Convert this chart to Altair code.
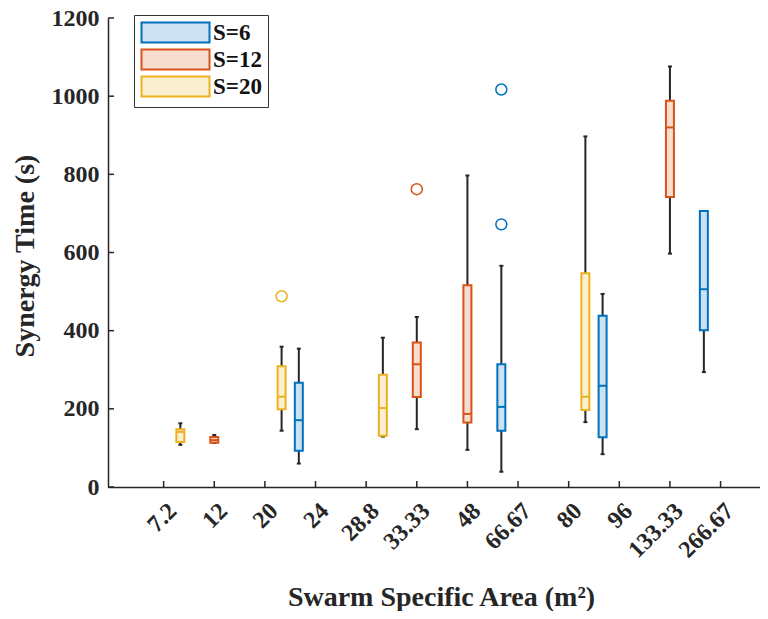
import json
import altair as alt
import pandas as pd

# ---------------- data ----------------
categories = ["7.2", "12", "20", "24", "28.8", "33.33", "48", "66.67", "80", "96", "133.33", "266.67"]
box_group = ["S=20", "S=12", "S=20", "S=6", "S=20", "S=12", "S=12", "S=6", "S=20", "S=6", "S=12", "S=6"]
whisker_low = [108, 113, 144, 60, 129, 148, 95, 39, 166, 84, 597, 294]
q1 = [115, 113, 199, 93, 131, 230, 165, 144, 197, 127, 742, 401]
median = [141, 120, 231, 171, 202, 314, 187, 205, 231, 259, 920, 506]
q3 = [148, 128, 309, 267, 287, 370, 516, 314, 547, 438, 988, 706]
whisker_high = [163, 133, 359, 354, 382, 435, 797, 566, 897, 494, 1076, 706]

outlier_category = ["20", "33.33", "66.67", "66.67"]
outlier_group = ["S=20", "S=12", "S=6", "S=6"]
outlier_value = [488, 762, 672, 1017]

y_ticks = [0, 200, 400, 600, 800, 1000, 1200]
groups = ["S=6", "S=12", "S=20"]

# ---------------- styles ----------------
edge_colors = ["#0072BD", "#D95319", "#EDB120"]
fill_colors = ["#CCE1F2", "#F7DCD0", "#FBEFD2"]
group_shift = {"S=6": -0.33, "S=12": 0.0, "S=20": 0.33}
FONT = "Liberation Serif"
AX = "#262626"
W, H = 652, 469

boxes = pd.DataFrame({
    "cat": categories, "S": box_group,
    "wlo": whisker_low, "q1": q1, "med": median, "q3": q3, "whi": whisker_high,
})
boxes["pos"] = [categories.index(c) + 1 + group_shift[g] for c, g in zip(boxes["cat"], boxes["S"])]

outl = pd.DataFrame({"cat": outlier_category, "S": outlier_group, "v": outlier_value})
outl["pos"] = [categories.index(c) + 1 + group_shift[g] for c, g in zip(outl["cat"], outl["S"])]

yt = pd.DataFrame({"v": y_ticks})
xt = pd.DataFrame({"i": list(range(1, len(categories) + 1))})

label_expr = json.dumps([""] + categories) + "[datum.value]"

x_scale = alt.Scale(domain=[0, 12.68], nice=False, zero=False)
y_scale = alt.Scale(domain=[0, 1200], nice=False)

x_axis = alt.Axis(
    values=list(range(1, len(categories) + 1)), labelExpr=label_expr, tickSize=0,
    labelAngle=315, labelAlign="right", labelBaseline="middle", labelPadding=20, labelOffset=9,
    labelOverlap=False, labelFlush=False, grid=False,
    labelFont=FONT, labelFontSize=24, labelFontWeight="bold", labelColor=AX,
    domainColor=AX, domainWidth=1.5,
    title="Swarm Specific Area (m²)", titleX=333, titleY=110, titleAlign="center", titleBaseline="middle",
    titleFont=FONT, titleFontSize=28, titleFontWeight="bold", titleColor=AX,
)
y_axis = alt.Axis(
    values=y_ticks, format="d", tickSize=0, labelPadding=9, labelFlush=False, labelOverlap=False, grid=False,
    labelFont=FONT, labelFontSize=24, labelFontWeight="bold", labelColor=AX,
    domainColor=AX, domainWidth=1.5,
    title="Synergy Time (s)", titleAngle=270, titleX=-83, titleY=H / 2 + 3, titleAlign="center",
    titleBaseline="middle", titleFont=FONT, titleFontSize=28, titleFontWeight="bold", titleColor=AX,
)

legend = alt.Legend(
    title=None, orient="none", legendX=26, legendY=-3,
    symbolType="M-3.4,-1H3.4V1H-3.4Z", symbolSize=400, symbolStrokeWidth=2, symbolOffset=24,
    labelOffset=26, labelFont=FONT, labelFontSize=23, labelFontWeight="bold", labelColor="#111",
    strokeColor="#333", fillColor="white", padding=6, rowPadding=-2, symbolOpacity=1,
)

stroke_scale = alt.Scale(domain=groups, range=edge_colors)
fill_scale = alt.Scale(domain=groups, range=fill_colors)

whisk = alt.Chart(boxes).mark_rule(color=AX, strokeWidth=2).encode(
    x=alt.X("pos:Q", scale=x_scale, axis=x_axis),
    y=alt.Y("wlo:Q", scale=y_scale, axis=y_axis),
    y2="whi:Q",
)
cap_lo = alt.Chart(boxes).mark_rule(color=AX, strokeWidth=2, xOffset=-2, x2Offset=2).encode(
    x="pos:Q", x2="pos:Q", y="wlo:Q")
cap_hi = alt.Chart(boxes).mark_rule(color=AX, strokeWidth=2, xOffset=-2, x2Offset=2).encode(
    x="pos:Q", x2="pos:Q", y="whi:Q")
box = alt.Chart(boxes).mark_bar(size=8, strokeWidth=2, opacity=1).encode(
    x="pos:Q", y="q1:Q", y2="q3:Q",
    fill=alt.Fill("S:N", scale=fill_scale, legend=legend),
    stroke=alt.Stroke("S:N", scale=stroke_scale, legend=legend),
)
med = alt.Chart(boxes).mark_rule(strokeWidth=2, xOffset=-4, x2Offset=4).encode(
    x="pos:Q", x2="pos:Q", y="med:Q",
    stroke=alt.Stroke("S:N", scale=stroke_scale, legend=None),
)
pts = alt.Chart(outl).mark_point(shape="circle", filled=False, size=120, strokeWidth=1.5, opacity=1).encode(
    x="pos:Q", y="v:Q",
    stroke=alt.Stroke("S:N", scale=stroke_scale, legend=None),
)
ytick = alt.Chart(yt).mark_rule(color=AX, strokeWidth=1.5).encode(
    y="v:Q", x=alt.value(0), x2=alt.value(6))
xtick = alt.Chart(xt).mark_rule(color=AX, strokeWidth=1.5).encode(
    x="i:Q", y=alt.value(H), y2=alt.value(H - 6))

chart = alt.layer(whisk, cap_lo, cap_hi, box, med, pts, ytick, xtick).properties(
    width=W, height=H,
    autosize=alt.AutoSizeParams(type="none"),
    padding={"left": 100, "top": 10, "right": 0, "bottom": 124},
    background="white",
).configure_view(stroke=None)

chart.save("out.html", embed_options={"renderer": "svg", "actions": False})
